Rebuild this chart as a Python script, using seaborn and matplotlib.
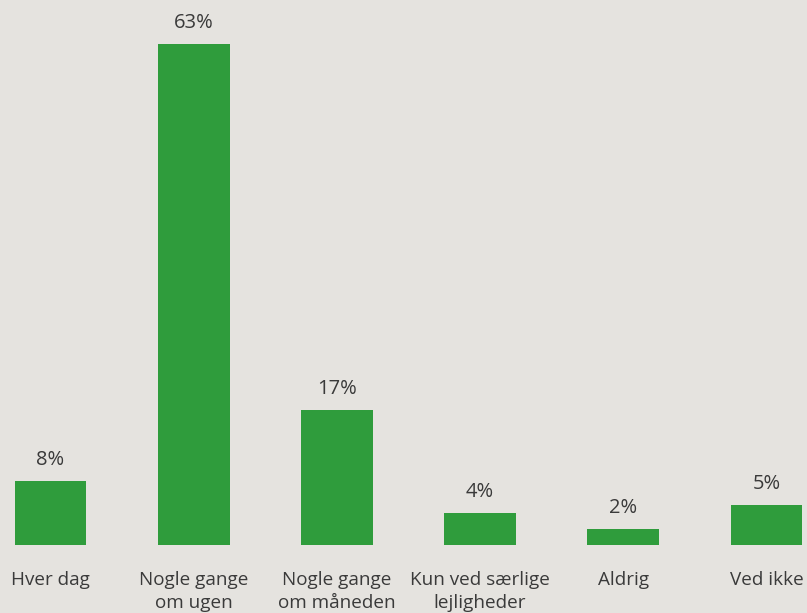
import matplotlib
matplotlib.use("Agg")
import matplotlib.pyplot as plt
import seaborn as sns
import pandas as pd

categories = ["Hver dag", "Nogle gange\nom ugen", "Nogle gange\nom måneden",
              "Kun ved særlige\nlejligheder", "Aldrig", "Ved ikke"]
values = [8, 63, 17, 4, 2, 5]

bg = "#e5e3df"
green = "#2f9c3c"
text_color = "#3a3a3a"

sns.set_theme(style="white")
plt.rcParams["font.family"] = ["Open Sans", "DejaVu Sans"]

df = pd.DataFrame({"kategori": categories, "andel": values})

fig = plt.figure(figsize=(8.07, 6.13), dpi=100, facecolor=bg)
ax = fig.add_axes([0, 1 - 545 / 613, 1, 545 / 613])
ax.set_facecolor(bg)

sns.barplot(data=df, x="kategori", y="andel", color=green, width=0.5,
            saturation=1, linewidth=0, edgecolor="none", ax=ax)

for c in ax.containers:
    ax.bar_label(c, labels=[f"{v}%" for v in values], padding=8,
                 fontsize=14.5, color=text_color)

ax.set_xlim(-0.353, 5.283)
ax.set_ylim(0, 545 / 7.95)
ax.set_xlabel("")
ax.set_ylabel("")
ax.set_yticks([])
ax.tick_params(axis="x", length=0, pad=19, labelsize=13.6, labelcolor=text_color)
for lbl in ax.get_xticklabels():
    lbl.set_linespacing(1.3)
sns.despine(ax=ax, left=True, bottom=True)

fig.savefig("out.png", dpi=100, facecolor=bg)
